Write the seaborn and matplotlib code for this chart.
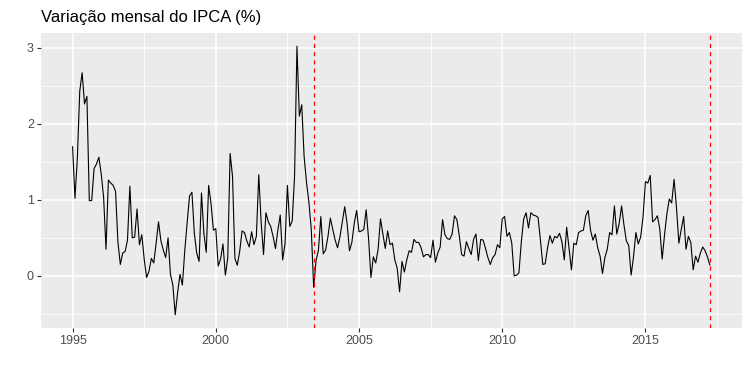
import pandas as pd
import matplotlib
matplotlib.use("Agg")
import matplotlib.pyplot as plt
from matplotlib.ticker import MultipleLocator
import seaborn as sns

# IPCA - variacao mensal (%), jan/1995 a abr/2017
inicio = "1995-01"
ipca = [
    1.70, 1.02, 1.55, 2.43, 2.67, 2.26, 2.36, 0.99, 0.99, 1.41, 1.47, 1.56,  # 1995
    1.34, 1.03, 0.35, 1.26, 1.22, 1.19, 1.11, 0.44, 0.15, 0.30, 0.32, 0.47,  # 1996
    1.18, 0.50, 0.51, 0.88, 0.41, 0.54, 0.22, -0.02, 0.06, 0.23, 0.17, 0.43,  # 1997
    0.71, 0.46, 0.34, 0.24, 0.50, 0.02, -0.12, -0.51, -0.22, 0.02, -0.12, 0.33,  # 1998
    0.70, 1.05, 1.10, 0.56, 0.30, 0.19, 1.09, 0.56, 0.31, 1.19, 0.95, 0.60,  # 1999
    0.62, 0.13, 0.22, 0.42, 0.01, 0.23, 1.61, 1.31, 0.23, 0.14, 0.32, 0.59,  # 2000
    0.57, 0.46, 0.38, 0.58, 0.41, 0.52, 1.33, 0.70, 0.28, 0.83, 0.71, 0.65,  # 2001
    0.52, 0.36, 0.60, 0.80, 0.21, 0.42, 1.19, 0.65, 0.72, 1.31, 3.02, 2.10,  # 2002
    2.25, 1.57, 1.23, 0.97, 0.61, -0.15, 0.20, 0.34, 0.78, 0.29, 0.34, 0.52,  # 2003
    0.76, 0.61, 0.47, 0.37, 0.51, 0.71, 0.91, 0.69, 0.33, 0.44, 0.69, 0.86,  # 2004
    0.58, 0.59, 0.61, 0.87, 0.49, -0.02, 0.25, 0.17, 0.35, 0.75, 0.55, 0.36,  # 2005
    0.59, 0.41, 0.43, 0.21, 0.10, -0.21, 0.19, 0.05, 0.21, 0.33, 0.31, 0.48,  # 2006
    0.44, 0.44, 0.37, 0.25, 0.28, 0.28, 0.24, 0.47, 0.18, 0.30, 0.38, 0.74,  # 2007
    0.54, 0.49, 0.48, 0.55, 0.79, 0.74, 0.53, 0.28, 0.26, 0.45, 0.36, 0.28,  # 2008
    0.48, 0.55, 0.20, 0.48, 0.47, 0.36, 0.24, 0.15, 0.24, 0.28, 0.41, 0.37,  # 2009
    0.75, 0.78, 0.52, 0.57, 0.43, 0.00, 0.01, 0.04, 0.45, 0.75, 0.83, 0.63,  # 2010
    0.83, 0.80, 0.79, 0.77, 0.47, 0.15, 0.16, 0.37, 0.53, 0.43, 0.52, 0.50,  # 2011
    0.56, 0.45, 0.21, 0.64, 0.36, 0.08, 0.43, 0.41, 0.57, 0.59, 0.60, 0.79,  # 2012
    0.86, 0.60, 0.47, 0.55, 0.37, 0.26, 0.03, 0.24, 0.35, 0.57, 0.54, 0.92,  # 2013
    0.55, 0.69, 0.92, 0.67, 0.46, 0.40, 0.01, 0.25, 0.57, 0.42, 0.51, 0.78,  # 2014
    1.24, 1.22, 1.32, 0.71, 0.74, 0.79, 0.62, 0.22, 0.54, 0.82, 1.01, 0.96,  # 2015
    1.27, 0.90, 0.43, 0.61, 0.78, 0.35, 0.52, 0.44, 0.08, 0.26, 0.18, 0.30,  # 2016
    0.38, 0.33, 0.25, 0.14,  # 2017
]
# linhas verticais tracejadas
marcos = ["2003-06", "2017-04"]

datas = pd.period_range(inicio, periods=len(ipca), freq="M")
df = pd.DataFrame({"ano": datas.year + (datas.month - 1) / 12, "ipca": ipca})
m = pd.PeriodIndex(marcos, freq="M")
marcos_x = m.year + (m.month - 1) / 12

sns.set_theme(style="darkgrid", rc={
    "axes.facecolor": "#EBEBEB",
    "grid.color": "white",
})
plt.rcParams["font.family"] = ["Liberation Sans", "DejaVu Sans"]

fig, ax = plt.subplots(figsize=(7.5, 3.72), dpi=100)
fig.subplots_adjust(left=0.0543, right=0.989, top=0.912, bottom=0.118)

sns.lineplot(data=df, x="ano", y="ipca", color="black", linewidth=0.8, ax=ax)
for x in marcos_x:
    ax.axvline(x, color="red", linewidth=0.9, linestyle=(0, (3.3, 3.3)))

ax.margins(x=0.05, y=0.05)
ax.xaxis.set_major_locator(MultipleLocator(5))
ax.xaxis.set_minor_locator(MultipleLocator(2.5))
ax.yaxis.set_major_locator(MultipleLocator(1))
ax.yaxis.set_minor_locator(MultipleLocator(0.5))
ax.xaxis.set_major_formatter(matplotlib.ticker.FuncFormatter(lambda v, p: f"{v:.0f}"))
ax.yaxis.set_major_formatter(matplotlib.ticker.FuncFormatter(lambda v, p: f"{v:.0f}"))
ax.grid(which="major", color="white", linewidth=1.1)
ax.grid(which="minor", color="white", linewidth=0.55)
ax.set_axisbelow(True)
for s in ax.spines.values():
    s.set_visible(False)
ax.tick_params(which="major", length=2.7, width=0.8, color="#333333",
               labelsize=9, labelcolor="#4D4D4D", pad=2.2,
               bottom=True, left=True)
ax.tick_params(which="minor", length=0, bottom=False, left=False)
ax.set_xlabel("")
ax.set_ylabel("")
ax.set_title("Variação mensal do IPCA (%)", loc="left", fontsize=12,
             color="black", pad=8)

fig.savefig("out.png", dpi=100)
